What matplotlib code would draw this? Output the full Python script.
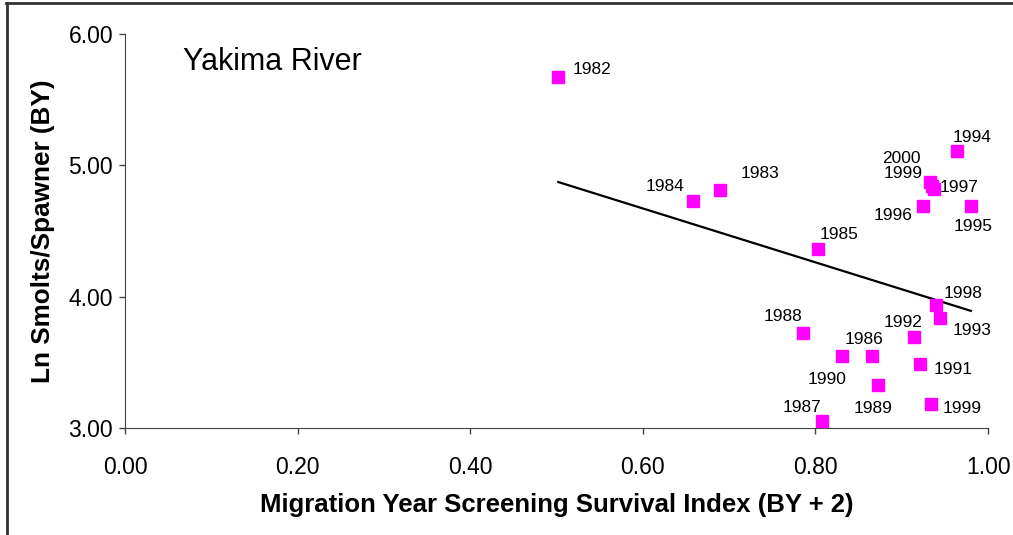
import numpy as np
import matplotlib
matplotlib.use("Agg")
import matplotlib.pyplot as plt
from matplotlib.lines import Line2D

plt.rcParams['font.family'] = ['Liberation Sans', 'DejaVu Sans']

# brood years and values
years = ['1982', '1983', '1984', '1985', '1986', '1987', '1988', '1989', '1990',
         '1991', '1992', '1993', '1994', '1995', '1996', '1997', '1998', '1999',
         '2000', '1999']
survival = [0.502, 0.689, 0.658, 0.803, 0.866, 0.808, 0.785, 0.873, 0.831,
            0.921, 0.914, 0.944, 0.964, 0.980, 0.925, 0.937, 0.940, 0.934,
            0.933, 0.935]
ln_smolts = [5.67, 4.81, 4.73, 4.36, 3.55, 3.05, 3.72, 3.33, 3.55,
             3.49, 3.69, 3.84, 5.11, 4.69, 4.69, 4.82, 3.94, 3.18,
             4.87, 4.84]

# trend line as drawn in the original (slope, intercept)
trend = [-2.052, 5.903]

# label offsets in points (dx, dy, ha)
offsets = {
    0: (10, 6, 'left'), 1: (15, 12, 'left'), 2: (-6, 10, 'right'),
    3: (1, 11, 'left'), 4: (-6, 12, 'center'), 5: (-1, 10, 'right'),
    6: (0, 12, 'right'), 7: (-4, -17, 'center'), 8: (3, -17, 'right'),
    9: (10, -4, 'left'), 10: (6, 11, 'right'), 11: (9, -9, 'left'),
    12: (-3, 10, 'left'), 13: (2, -15, 'center'), 14: (-8, -7, 'right'),
    15: (4, 1, 'left'), 16: (5, 8, 'left'), 17: (8, -3, 'left'),
    18: (-7, 17, 'right'), 19: (-7, 9, 'right'),
}

fig = plt.figure(figsize=(10.13, 5.35), dpi=100)
ax = fig.add_axes([0.1234, 0.2, 0.852, 0.7364])

ax.plot(survival, ln_smolts, 's', color='#ff00ff', markersize=8.5, zorder=3)

xt = np.array([min(survival), max(survival)])
ax.plot(xt, np.polyval(trend, xt), color='black', lw=1.6, zorder=2)

for i, (x, y) in enumerate(zip(survival, ln_smolts)):
    dx, dy, ha = offsets[i]
    ax.annotate(years[i], (x, y), xytext=(dx, dy), textcoords='offset points',
                ha=ha, va='center', fontsize=12.5, color='black')

ax.set_xlim(0, 1)
ax.set_ylim(3, 6)
ax.set_xticks(np.arange(0, 1.01, 0.2))
ax.set_yticks([3, 4, 5, 6])
ax.xaxis.set_major_formatter(plt.FormatStrFormatter('%.2f'))
ax.yaxis.set_major_formatter(plt.FormatStrFormatter('%.2f'))
ax.tick_params(direction='out', length=4, width=1, color='#444444',
               labelsize=16.5)
ax.tick_params(axis='x', pad=16)
ax.tick_params(axis='y', pad=4.5)
for s in ['top', 'right']:
    ax.spines[s].set_visible(False)
for s in ['left', 'bottom']:
    ax.spines[s].set_color('#444444')

ax.set_xlabel('Migration Year Screening Survival Index (BY + 2)',
              fontsize=18.5, fontweight='bold', labelpad=10)
ax.set_ylabel('Ln Smolts/Spawner (BY)', fontsize=18.8, fontweight='bold',
              labelpad=10)
ax.text(0.067, 0.93, 'Yakima River', transform=ax.transAxes, fontsize=22,
        va='center', ha='left')

# figure frame (top and left edges visible)
fig.add_artist(Line2D([0.006, 1.0], [0.994, 0.994], color='#333333', lw=2,
                      transform=fig.transFigure))
fig.add_artist(Line2D([0.007, 0.007], [0.0, 0.994], color='#333333', lw=2,
                      transform=fig.transFigure))

fig.savefig('out.png', dpi=100)
